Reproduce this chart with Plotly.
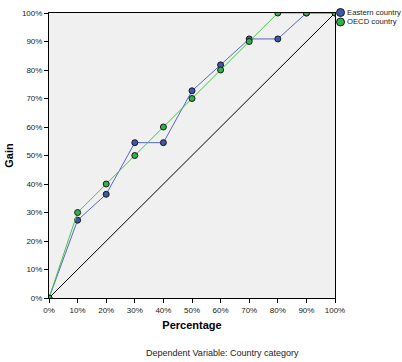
import plotly.graph_objects as go

percentage = [0, 10, 20, 30, 40, 50, 60, 70, 80, 90, 100]
eastern_gain = [0, 27.3, 36.4, 54.5, 54.5, 72.7, 81.8, 90.9, 90.9, 100, 100]
oecd_gain = [0, 30, 40, 50, 60, 70, 80, 90, 100, 100, 100]
tick_vals = [0, 10, 20, 30, 40, 50, 60, 70, 80, 90, 100]
tick_text = [f"{v}%" for v in tick_vals]
series_names = ["Eastern country", "OECD country"]
marker_colors = ["#3d58a8", "#2db34a"]
line_colors = ["#5468c0", "#40c840"]

FONT = "Liberation Sans, Arial, sans-serif"

fig = go.Figure()
fig.add_trace(go.Scatter(x=[0, 100], y=[0, 100], mode="lines",
                         line=dict(color="black", width=1), showlegend=False, hoverinfo="skip"))
for name, ys, mc, lc in zip(series_names, [eastern_gain, oecd_gain], marker_colors, line_colors):
    fig.add_trace(go.Scatter(x=percentage, y=ys, mode="lines+markers", name=name,
                             line=dict(color=lc, width=1), showlegend=False,
                             marker=dict(color=mc, size=6, line=dict(color="#1a1a1a", width=1))))

axis_common = dict(range=[0, 100], tickvals=tick_vals, ticktext=tick_text, ticks="outside",
                   ticklen=4, tickcolor="black", showgrid=False, zeroline=False,
                   showline=True, linecolor="black", linewidth=1, mirror=True,
                   tickfont=dict(family=FONT, size=8, color="#222"))

# plot area in pixels: x 49..335, y 13..298
def px_x(p):
    return (p - 49) / 286.0

def px_y(p):
    return (298 - p) / 285.0

shapes = []
annotations = []
for i, (name, mc) in enumerate(zip(series_names, marker_colors)):
    cy = 12.5 + 9.5 * i
    shapes.append(dict(type="circle", xref="paper", yref="paper",
                       x0=px_x(336.5), x1=px_x(344.5), y0=px_y(cy + 4), y1=px_y(cy - 4),
                       fillcolor=mc, line=dict(color="#1a1a1a", width=1)))
    annotations.append(dict(text=name, xref="paper", yref="paper", x=px_x(346), y=px_y(cy),
                            xanchor="left", yanchor="middle", showarrow=False, borderpad=0,
                            font=dict(family=FONT, size=7.7, color="#222")))

annotations.append(dict(text="Dependent Variable: Country category", xref="paper", yref="paper",
                        x=px_x(222.5), y=px_y(353), xanchor="center", yanchor="middle",
                        showarrow=False, font=dict(family=FONT, size=9, color="#222")))

fig.update_layout(
    width=402, height=362,
    margin=dict(l=49, r=67, t=13, b=64, autoexpand=False),
    plot_bgcolor="#f0f0f0", paper_bgcolor="white",
    font=dict(family=FONT, color="black"),
    showlegend=False,
    xaxis=dict(axis_common, title=dict(text="<b>Percentage</b>", font=dict(size=11), standoff=7)),
    yaxis=dict(axis_common, title=dict(text="<b>Gain</b>", font=dict(size=11), standoff=6)),
    shapes=shapes,
    annotations=annotations,
)
fig.write_html("out.html", config={"displayModeBar": False},
               post_script="document.body.style.margin='0';document.body.style.overflow='hidden';")
